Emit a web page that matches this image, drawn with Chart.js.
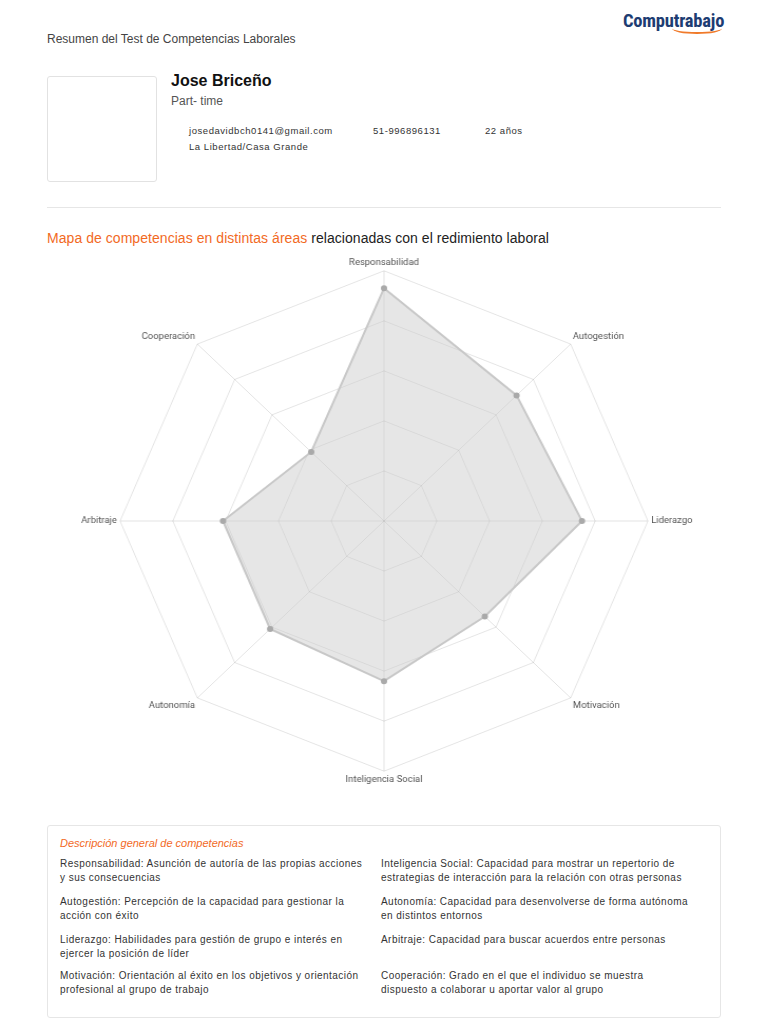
<!DOCTYPE html>
<html lang="es">
<head>
<meta charset="utf-8">
<script src="https://cdn.jsdelivr.net/npm/chart.js@4/dist/chart.umd.min.js"></script>
<style>
  body { margin: 0; background: #fff; font-family: "Liberation Sans", Arial, sans-serif; color: #333; }
  .page { position: relative; width: 768px; height: 1024px; }
  .abs { position: absolute; }
  .head { left: 47px; top: 32px; font-size: 12px; color: #444; }
  .logo { left: 623px; top: 10px; font-size: 18.5px; font-weight: bold; color: #1d3c72; font-family: "Roboto Condensed", "Liberation Sans Narrow", "Liberation Sans", Arial; letter-spacing: -0.2px; }
  .swoosh { left: 672px; top: 23px; width: 50px; height: 9px; border-bottom: 2px solid #f07a2a; border-radius: 0 0 50% 50%; }
  .photo { left: 47px; top: 76px; width: 110px; height: 106px; border: 1px solid #e2e2e2; border-radius: 3px; box-sizing: border-box; }
  .name { left: 171px; top: 72px; font-size: 16px; font-weight: bold; color: #111; }
  .job { left: 171px; top: 94px; font-size: 12px; color: #555; }
  .info { font-size: 9.5px; color: #333; letter-spacing: 0.55px; }
  .hr { left: 47px; top: 207px; width: 674px; height: 1px; background: #e6e6e6; }
  .title { left: 47px; top: 230px; font-size: 14px; color: #222; letter-spacing: 0.05px; }
  .title span { color: #f26a1f; }
  .chartbox { left: 47px; top: 257px; width: 674px; height: 528px; transform: scaleX(1.055); transform-origin: 50% 50%; }
  .desc { left: 47px; top: 825px; width: 674px; height: 193px; border: 1px solid #e6e6e6; border-radius: 3px; box-sizing: border-box; }
  .desc h4 { position: absolute; left: 12px; top: 11px; margin: 0; font-size: 11px; font-weight: normal; font-style: italic; color: #f26a1f; }
  .item { position: absolute; white-space: pre; font-size: 10px; line-height: 14px; color: #333; letter-spacing: 0.45px; }
</style>
</head>
<body>
<div class="page">
  <div class="abs head">Resumen del Test de Competencias Laborales</div>
  <div class="abs logo">Computrabajo</div>
  <div class="abs swoosh"></div>
  <div class="abs photo"></div>
  <div class="abs name">Jose Briceño</div>
  <div class="abs job">Part- time</div>
  <div class="abs info" style="left:189px;top:125px;">josedavidbch0141@gmail.com</div>
  <div class="abs info" style="left:373px;top:125px;">51-996896131</div>
  <div class="abs info" style="left:485px;top:125px;">22 años</div>
  <div class="abs info" style="left:189px;top:141px;">La Libertad/Casa Grande</div>
  <div class="abs hr"></div>
  <div class="abs title"><span>Mapa de competencias en distintas áreas</span> relacionadas con el redimiento laboral</div>
  <div class="abs chartbox"><canvas id="myChart"></canvas></div>
  <div class="abs desc" id="desc">
    <h4>Descripción general de competencias</h4>
  </div>
</div>
<script>
const labels = ["Responsabilidad", "Autogestión", "Liderazgo", "Motivación", "Inteligencia Social", "Autonomía", "Arbitraje", "Cooperación"]
const values = [93, 71, 75, 54, 64, 61, 61, 39]

const descriptions = [
  "Responsabilidad: Asunción de autoría de las propias acciones\ny sus consecuencias",
  "Inteligencia Social: Capacidad para mostrar un repertorio de\nestrategias de interacción para la relación con otras personas",
  "Autogestión: Percepción de la capacidad para gestionar la\nacción con éxito",
  "Autonomía: Capacidad para desenvolverse de forma autónoma\nen distintos entornos",
  "Liderazgo: Habilidades para gestión de grupo e interés en\nejercer la posición de líder",
  "Arbitraje: Capacidad para buscar acuerdos entre personas",
  "Motivación: Orientación al éxito en los objetivos y orientación\nprofesional al grupo de trabajo",
  "Cooperación: Grado en el que el individuo se muestra\ndispuesto a colaborar u aportar valor al grupo"
]

// descripciones en dos columnas
const desc = document.getElementById('desc')
const rowTops = [31, 69, 107, 143]
descriptions.forEach((txt, i) => {
  const d = document.createElement('div')
  d.className = 'item'
  d.style.left = (i % 2 == 0 ? 12 : 333) + 'px'
  d.style.top = rowTops[Math.floor(i / 2)] + 'px'
  d.textContent = txt
  desc.appendChild(d)
})

const data = {
  labels: labels,
  datasets: [
    {
      label: "Competencias",
      data: values,
      backgroundColor: "rgba(200, 200, 200, 0.45)",
      borderColor: "rgba(200, 200, 200, 1)",
      borderWidth: 2,
      pointRadius: 2,
      pointBackgroundColor: "#aaa",
      pointBorderColor: "#aaa",
      tension: 0,
    },
  ],
};

const config = {
  type: "radar",
  data: data,
  options: {
    responsive: true,
    maintainAspectRatio: false,
    animation: false,
    plugins: {
      legend: { display: false },
      tooltip: { enabled: false }
    },
    scales: {
      r: {
        min: 0,
        max: 100,
        ticks: { display: false, stepSize: 20 },
        grid: { color: "rgba(0,0,0,0.11)", lineWidth: 1 },
        angleLines: { color: "rgba(0,0,0,0.11)" },
        z: 1,
        pointLabels: {
          color: "#555",
          font: { size: 9, family: "Roboto, 'Liberation Sans', Arial" },
          padding: 3
        }
      }
    }
  },
};

const MyChart = new Chart(
  document.getElementById('myChart'),
  config
  );
</script>
</body>
</html>
